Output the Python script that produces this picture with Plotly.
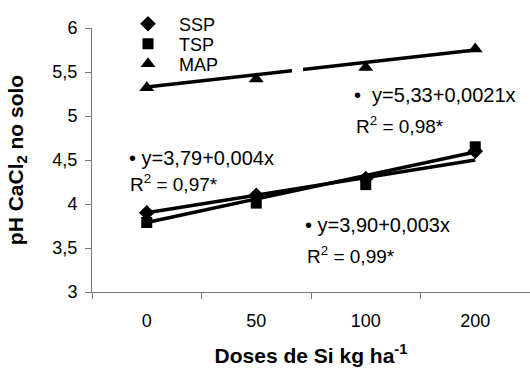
import plotly.graph_objects as go

# Doses de Si (kg/ha) shown as equally spaced categories
doses = ["0", "50", "100", "200"]
dose_values = [0, 50, 100, 200]

# Observed soil pH (CaCl2) per source
ssp = [3.90, 4.10, 4.29, 4.60]
tsp = [3.79, 4.01, 4.22, 4.65]
map_ = [5.32, 5.42, 5.55, 5.76]

# Fitted linear models: intercept, slope, R2 label
fits = {
    "SSP": (3.90, 0.003, "0,99*"),
    "TSP": (3.79, 0.004, "0,97*"),
    "MAP": (5.33, 0.0021, "0,98*"),
}

y_ticks = [3, 3.5, 4, 4.5, 5, 5.5, 6]

FONT = "Liberation Sans, Arial, sans-serif"

# plot area in pixels
L, R, T, B = 92, 530, 28, 292


def dx(px):
    return (px - L) / (R - L)


def dy(py):
    return (B - py) / (B - T)


fig = go.Figure()

# Regression lines, drawn straight from the first to the last dose
for name in ["MAP", "SSP", "TSP"]:
    a, b, _ = fits[name]
    fig.add_trace(go.Scatter(
        x=[doses[0], doses[-1]],
        y=[a + b * dose_values[0], a + b * dose_values[-1]],
        mode="lines",
        line=dict(color="black", width=3.5),
        showlegend=False,
        hoverinfo="skip",
    ))

# observed points; each source gets its own one-entry legend
series = [
    ("SSP", ssp, "diamond", 12, "legend", 24),
    ("TSP", tsp, "square", 11, "legend2", 44),
    ("MAP", map_, "triangle-up", 13, "legend3", 64),
]
legend_layout = {}
for name, vals, symbol, size, leg, row_y in series:
    fig.add_trace(go.Scatter(
        x=doses, y=vals, mode="markers", name=name, legend=leg,
        marker=dict(symbol=symbol, size=size, color="black"),
    ))
    legend_layout[leg] = dict(
        x=dx(117), y=dy(row_y), xanchor="left", yanchor="middle",
        bgcolor="rgba(0,0,0,0)", itemwidth=52,
        font=dict(family=FONT, size=18),
    )

# small white break in the MAP line
fig.add_shape(type="rect", xref="x domain", yref="y domain",
              x0=dx(292), x1=dx(303), y0=dy(80), y1=dy(64),
              fillcolor="white", line=dict(width=0), layer="above")

# Equation labels: (bullet x, line-1 y, line-2 x, line-2 y, bullet)
eq_pos = {
    "MAP": (352, 95, 354, 125, "•  "),
    "TSP": (127, 158, 128, 183, "• "),
    "SSP": (303, 225, 305, 255, "• "),
}
for name, (x1, y1, x2, y2, bullet) in eq_pos.items():
    a, b, r2 = fits[name]
    b_txt = ("%g" % b).replace(".", ",")
    a_txt = ("%.2f" % a).replace(".", ",")
    fig.add_annotation(
        x=dx(x1), y=dy(y1), xref="x domain", yref="y domain",
        text=f"{bullet}y={a_txt}+{b_txt}x",
        showarrow=False, xanchor="left", yanchor="middle",
        font=dict(family=FONT, size=20, color="black"),
    )
    fig.add_annotation(
        x=dx(x2), y=dy(y2), xref="x domain", yref="y domain",
        text=f"R<sup>2</sup> = {r2}",
        showarrow=False, xanchor="left", yanchor="middle",
        font=dict(family=FONT, size=19, color="black"),
    )

fig.update_layout(
    width=530, height=369,
    margin=dict(l=L, r=530 - R, t=T, b=369 - B),
    paper_bgcolor="white", plot_bgcolor="white",
    separators=", ",
    font=dict(family=FONT, size=18, color="black"),
    showlegend=True,
    legend=legend_layout["legend"],
    legend2=legend_layout["legend2"],
    legend3=legend_layout["legend3"],
    xaxis=dict(
        type="category", categoryorder="array", categoryarray=doses,
        range=[-0.5, 3.5],
        tickson="boundaries", ticks="outside", ticklen=6,
        tickcolor="#777", showline=True, linecolor="#777", linewidth=1,
        showgrid=False, zeroline=False, ticklabelstandoff=12,
        tickfont=dict(family=FONT, size=18),
        title=dict(text="<b>Doses de Si kg ha<sup>-1</sup></b>",
                   font=dict(family=FONT, size=21), standoff=18),
    ),
    yaxis=dict(
        range=[3, 6], tickvals=y_ticks, tickformat=".1~f",
        ticks="outside", ticklen=6, tickcolor="#777",
        showline=True, linecolor="#777", linewidth=1,
        showgrid=False, zeroline=False, ticklabelstandoff=4,
        tickfont=dict(family=FONT, size=18),
        title=dict(text="<b>pH CaCl<sub>2</sub> no solo</b>",
                   font=dict(family=FONT, size=21), standoff=23),
    ),
)

fig.write_html("out.html")
